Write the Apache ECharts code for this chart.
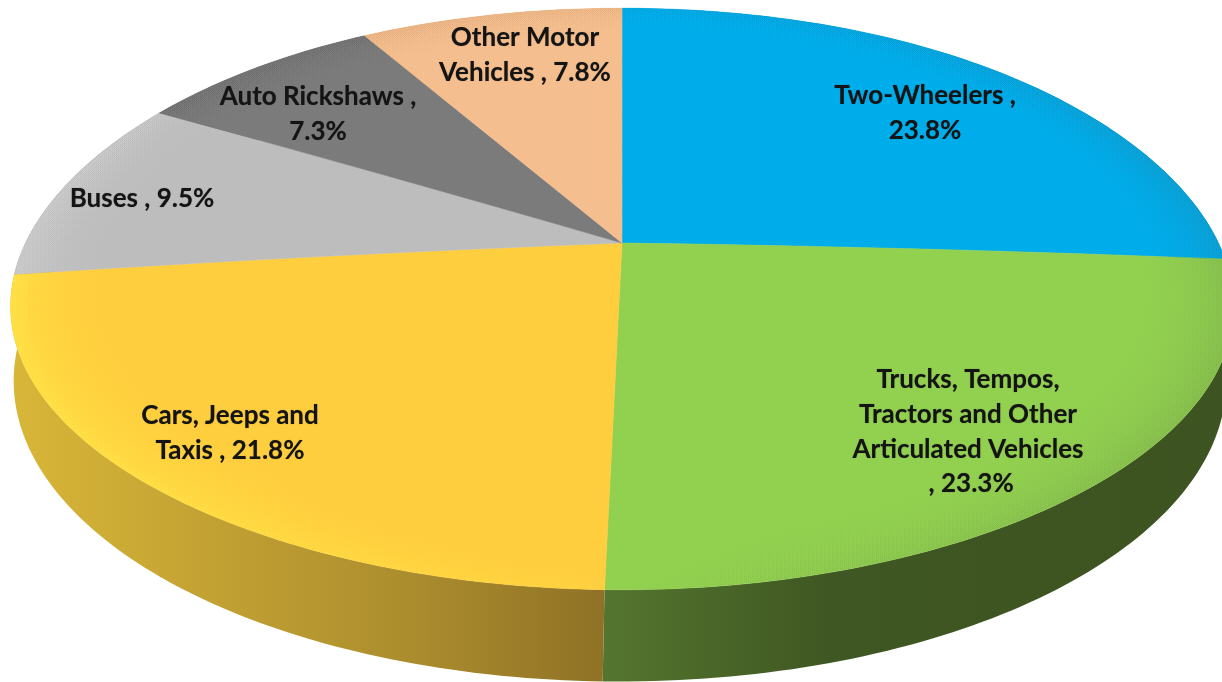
<!DOCTYPE html>
<html>
<head>
<meta charset="utf-8">
<style>html,body{margin:0;padding:0;background:#fff;overflow:hidden}#c{width:1222px;height:682px}</style>
<script src="https://cdn.jsdelivr.net/npm/echarts@6/dist/echarts.min.js"></script>
</head>
<body>
<div id="c"></div>
<script>
// ---- data ----
const categories = ['Two-Wheelers', 'Trucks, Tempos,\nTractors and Other\nArticulated Vehicles', 'Cars, Jeeps and\nTaxis', 'Buses', 'Auto Rickshaws', 'Other Motor\nVehicles'];
const shares = [23.8, 23.3, 21.8, 9.5, 7.3, 7.8];
const separators = [' ,\n', '\n , ', ' , ', ' , ', ' ,\n', ' , '];

// ---- styles ----
const topColors  = ['#00ADEB', '#92D050', '#FFCE3E', '#BDBDBD', '#7B7B7B', '#F5BE8E'];
const rimColors  = ['#1390BC', '#7AAA48', '#FFF04A', '#D4D4D4', '#6C6C6C', '#DDA878'];
const rimFadeX   = [[622, 1230, 0.25, 1], [622, 1230, 0, 1], [620, 20, 0.15, 1], [20, 160, 1, 0.5], [150, 360, 1, 1], [360, 622, 1, 0.6]];
const wallStops  = [
  [[600, '#00709A'], [1222, '#00506E']],
  [[605, '#54752F'], [830, '#3F5722'], [1222, '#3D5321']],
  [[15, '#D8B638'], [400, '#AD8E2E'], [605, '#8F7226']],
  [[0, '#8A8A8A'], [200, '#8A8A8A']], [[0, '#555'], [200, '#555']], [[0, '#B08860'], [200, '#B08860']]
];
const labelAnchors = [[925, 113], [968, 432], [230, 433], [142, 199], [318, 114], [525, 55]];

// ---- layout of the projected pie ----
const topPlane  = {ax: 622, ay: 243, A: 600, B: 280, k: 0.1925, sag: 8};
const basePlane = {ax: 620, ay: 323, A: 595, B: 289.5, k: 0.1925, sag: 0};
const total = shares.reduce((a, b) => a + b, 0);
const cumulative = [];
shares.reduce((a, b, i) => (cumulative[i] = a, a + b), 0);

function project(p, deg, r) {
  const t = deg * Math.PI / 180, s = Math.sin(t), X = r * s, Y = r * Math.cos(t), w = 1 + p.k * Y;
  return [p.ax + p.A * X / w, p.ay - p.B * Y / w + p.sag * r * r * s * s * s * s];
}
function arc(p, a0, a1, r) {
  const n = Math.max(2, Math.ceil(Math.abs(a1 - a0))), pts = [];
  for (let i = 0; i <= n; i++) pts.push(project(p, a0 + (a1 - a0) * i / n, r));
  return pts;
}
function ray(p, deg, r) {
  const pts = [];
  for (let j = 0; j <= 8; j++) pts.push(project(p, deg, r * j / 8));
  return pts;
}
function angles(i) {
  return [cumulative[i] / total * 360, (cumulative[i] + shares[i]) / total * 360];
}
function hexA(hex, a) {
  const n = parseInt(hex.slice(1), 16);
  return `rgba(${n >> 16},${(n >> 8) & 255},${n & 255},${a})`;
}
const seriesData = shares.map((v, i) => [i, v]);

function renderWall(params, api) {
  const i = api.value(0), [a0, a1] = angles(i);
  const pts = arc(topPlane, a0, a1, 1).concat(arc(basePlane, a1, a0, 1));
  const stops = wallStops[i], x0 = stops[0][0], x1 = stops[stops.length - 1][0];
  return {type: 'polygon', shape: {points: pts}, style: {
    fill: {type: 'linear', x: x0, y: 0, x2: x1, y2: 0, global: true,
      colorStops: stops.map(s => ({offset: (s[0] - x0) / (x1 - x0), color: s[1]}))}
  }};
}
function renderTop(params, api) {
  const i = api.value(0), [a0, a1] = angles(i);
  const outline = ray(topPlane, a0, 1).concat(arc(topPlane, a0, a1, 1), ray(topPlane, a1, 1).reverse());
  const children = [{type: 'polygon', shape: {points: outline},
    style: {fill: topColors[i], stroke: topColors[i], lineWidth: 0.5}}];
  const bands = 16, r0 = 0.86;
  const [fx0, fx1, f0, f1] = rimFadeX[i];
  for (let b = 0; b < bands; b++) {
    const r = r0 + (1 - r0) * b / bands;
    const alpha = 0.016 + 0.09 * Math.pow(b / bands, 2.5);
    children.push({type: 'polygon', shape: {points: arc(topPlane, a0, a1, r).concat(arc(topPlane, a1, a0, 1))},
      style: {fill: {type: 'linear', x: fx0, y: 0, x2: fx1, y2: 0, global: true, colorStops: [
        {offset: 0, color: hexA(rimColors[i], alpha * f0)},
        {offset: 1, color: hexA(rimColors[i], alpha * f1)}]}}});
  }
  return {type: 'group', children};
}
function renderLabel(params, api) {
  const i = api.value(0), a = labelAnchors[i];
  return {type: 'text', x: a[0], y: a[1], style: {
    text: categories[i] + separators[i] + api.value(1).toFixed(1) + '%',
    fill: '#141414', font: '700 26px Lato', align: 'center', verticalAlign: 'middle', lineHeight: 34.7,
    textShadowColor: 'rgba(20,20,20,0.45)', textShadowBlur: 1
  }};
}
const chart = echarts.init(document.getElementById('c'), null, {renderer: 'canvas', width: 1222, height: 682});
chart.setOption({
  backgroundColor: '#ffffff',
  animation: false,
  series: [
    {type: 'custom', coordinateSystem: 'none', z: 1, silent: true, data: seriesData, renderItem: renderWall},
    {type: 'custom', coordinateSystem: 'none', z: 2, silent: true, data: seriesData, renderItem: renderTop},
    {type: 'custom', coordinateSystem: 'none', z: 3, silent: true, data: seriesData, renderItem: renderLabel}
  ]
});
</script>
</body>
</html>
